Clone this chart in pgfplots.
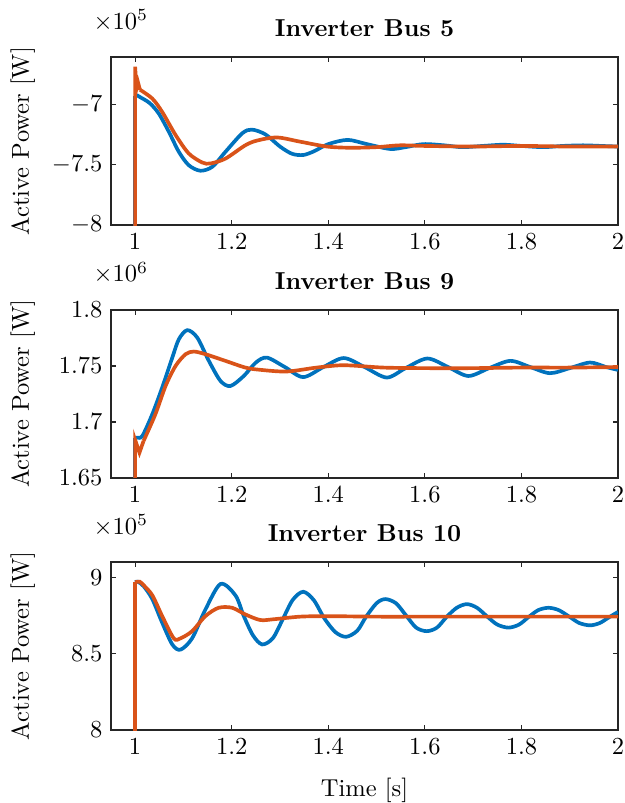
\documentclass[border=0pt]{standalone}
\usepackage{pgfplots}
\pgfplotsset{compat=1.18}
\definecolor{mblue}{rgb}{0,0.447,0.741}
\definecolor{morange}{rgb}{0.850,0.325,0.098}
\pgfplotsset{
  busaxis/.style={
    scale only axis, width=207pt, height=68.6pt,
    xmin=0.95, xmax=2, xtick={1,1.2,1.4,1.6,1.8,2},
    clip mode=individual,
    axis line style={draw=black!85, line width=0.6pt},
    major tick length=2pt, tick style={black!85, line width=0.5pt},
    ylabel={Active Power [W]},
    ylabel style={at={(axis description cs:-0.174,0.5)}, anchor=center},
    every axis title/.style={font=\bfseries, at={(axis description cs:0.5,1)}, anchor=base, yshift=8.2pt},
  },
  blue/.style={mblue, line width=1.5pt},
  orng/.style={morange, line width=1.5pt},
}
\begin{document}
\begin{tikzpicture}
\path[use as bounding box] (0,0) rectangle (255pt,327.8pt);

% ---- Inverter Bus 5 ----
\begin{axis}[busaxis, at={(45.3pt,235.9pt)}, anchor=south west,
  title={Inverter Bus 5}, ymin=-8, ymax=-6.61, ytick={-8,-7.5,-7}]
\addplot[blue] coordinates {(1,-9)(1,-6.93)};
\addplot[blue, smooth, tension=0.5] coordinates {
 (1,-6.93)(1.005,-6.928)(1.0097,-6.94)(1.03,-6.99)(1.049,-7.077)(1.070,-7.229)
 (1.0906,-7.394)(1.111,-7.504)(1.135,-7.55)(1.160,-7.517)(1.187,-7.394)
 (1.222,-7.24)(1.242,-7.21)(1.27,-7.25)(1.30,-7.35)(1.325,-7.41)(1.348,-7.42)
 (1.37,-7.39)(1.40,-7.33)(1.44,-7.295)(1.48,-7.33)(1.528,-7.37)(1.56,-7.355)
 (1.597,-7.33)(1.64,-7.34)(1.677,-7.355)(1.72,-7.345)(1.762,-7.335)(1.80,-7.345)
 (1.845,-7.355)(1.885,-7.345)(1.928,-7.34)(1.965,-7.345)(2.0,-7.35)};
\addplot[orng] coordinates {(1,-9)(1,-6.69)(1.003,-6.87)(1.006,-6.82)(1.010,-6.88)};
\addplot[orng, smooth, tension=0.5] coordinates {
 (1.010,-6.88)(1.0355,-6.953)(1.056,-7.063)(1.084,-7.256)(1.111,-7.407)
 (1.139,-7.482)(1.156,-7.49)(1.187,-7.45)(1.228,-7.34)(1.253,-7.30)(1.294,-7.275)
 (1.342,-7.31)(1.397,-7.35)(1.445,-7.36)(1.50,-7.355)(1.548,-7.34)(1.6,-7.345)
 (1.7,-7.35)(1.8,-7.345)(1.9,-7.35)(2.0,-7.35)};
\node[anchor=base west, xshift=-10.6pt, yshift=11.4pt] at (rel axis cs:0,1) {$\times10^{5}$};
\end{axis}

% ---- Inverter Bus 9 ----
\begin{axis}[busaxis, at={(45.3pt,132.7pt)}, anchor=south west,
  title={Inverter Bus 9}, ymin=1.65, ymax=1.8, ytick={1.65,1.7,1.75,1.8}]
\addplot[blue] coordinates {(1,1.60)(1,1.686)};
\addplot[blue, smooth, tension=0.5] coordinates {
 (1,1.686)(1.0045,1.686)(1.015,1.6875)(1.0356,1.7069)(1.056,1.7306)(1.077,1.7574)
 (1.0906,1.7738)(1.108,1.7819)(1.1286,1.7753)(1.1527,1.7545)(1.1768,1.7366)
 (1.1975,1.7321)(1.225,1.741)(1.25,1.753)(1.273,1.7574)(1.31,1.749)(1.348,1.740)
 (1.39,1.749)(1.432,1.757)(1.475,1.749)(1.521,1.7396)(1.56,1.748)(1.605,1.7566)
 (1.648,1.749)(1.69,1.741)(1.733,1.748)(1.777,1.7545)(1.818,1.749)(1.859,1.7435)
 (1.90,1.748)(1.942,1.753)(1.975,1.749)(2.0,1.7464)};
\addplot[orng] coordinates {(1,1.60)(1,1.684)(1.009,1.6726)(1.0175,1.683)};
\addplot[orng, smooth, tension=0.5] coordinates {
 (1.0175,1.683)(1.042,1.7069)(1.063,1.732)(1.0838,1.75)(1.1045,1.7604)(1.1216,1.7628)
 (1.1458,1.7604)(1.187,1.7545)(1.2285,1.7485)(1.259,1.7465)(1.314,1.745)(1.376,1.7485)
 (1.432,1.7506)(1.514,1.7485)(1.6,1.748)(1.7,1.748)(1.8,1.7485)(1.9,1.7485)(2.0,1.749)};
\node[anchor=base west, xshift=-10.6pt, yshift=11.4pt] at (rel axis cs:0,1) {$\times10^{6}$};
\end{axis}

% ---- Inverter Bus 10 ----
\begin{axis}[busaxis, at={(45.3pt,29.8pt)}, anchor=south west,
  title={Inverter Bus 10}, ymin=8, ymax=9.1, ytick={8,8.5,9},
  xlabel={Time [s]},
  xlabel style={at={(axis description cs:0.5,0)}, anchor=base, yshift=-27pt}]
\addplot[blue] coordinates {(1,7.9)(1,8.967)};
\addplot[blue, smooth, tension=0.5] coordinates {
 (1,8.967)(1.006,8.97)(1.018,8.94)(1.0356,8.857)(1.056,8.703)(1.077,8.56)(1.094,8.526)
 (1.118,8.60)(1.1458,8.79)(1.177,8.956)(1.208,8.88)(1.225,8.746)
 (1.244,8.62)(1.263,8.56)(1.285,8.60)(1.305,8.72)(1.326,8.85)(1.348,8.905)
 (1.37,8.85)(1.392,8.73)(1.415,8.64)(1.437,8.61)(1.46,8.65)(1.478,8.74)
 (1.50,8.83)(1.518,8.857)(1.54,8.83)(1.561,8.75)(1.582,8.67)(1.604,8.647)
 (1.625,8.67)(1.645,8.74)(1.666,8.80)(1.687,8.824)(1.708,8.80)(1.73,8.74)
 (1.75,8.69)(1.773,8.67)(1.795,8.69)(1.815,8.74)(1.835,8.785)(1.856,8.80)
 (1.877,8.785)(1.90,8.74)(1.92,8.70)(1.942,8.685)(1.962,8.70)(1.98,8.735)(2.0,8.773)};
\addplot[orng] coordinates {(1,7.9)(1,8.967)};
\addplot[orng, smooth, tension=0.5] coordinates {
 (1,8.967)(1.01,8.97)(1.02,8.94)(1.036,8.88)(1.056,8.746)(1.080,8.60)(1.094,8.60)
 (1.118,8.647)(1.1458,8.746)(1.173,8.80)(1.201,8.80)(1.228,8.757)(1.259,8.72)
 (1.287,8.725)(1.342,8.742)(1.4,8.745)(1.5,8.742)(1.6,8.742)(1.8,8.742)(2.0,8.742)};
\node[anchor=base west, xshift=-10.6pt, yshift=11.4pt] at (rel axis cs:0,1) {$\times10^{5}$};
\end{axis}
\end{tikzpicture}
\end{document}
